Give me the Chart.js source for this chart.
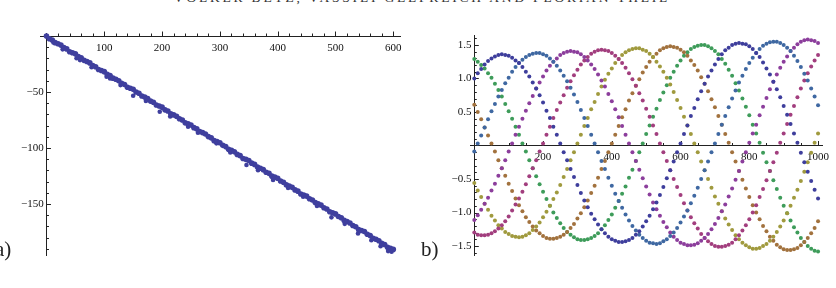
<!DOCTYPE html>
<html>
<head>
<meta charset="utf-8">
<script src="https://cdn.jsdelivr.net/npm/chart.js@4.4.1/dist/chart.umd.min.js"></script>
<style>
  body { margin: 0; width: 836px; height: 288px; overflow: hidden; background: #fff; position: relative; font-family: "Liberation Serif", serif; }
  canvas { position: absolute; top: 0; }
  #chartA { left: 0; }
  #chartB { left: 418px; }
  .tag { position: absolute; font-size: 21px; color: #222; line-height: 1; }
  #header { position: absolute; top: -10px; left: 0; width: 836px; text-align: center; font-size: 13.5px; letter-spacing: 2.8px; color: #333; white-space: nowrap; padding-left: 4px; }
</style>
</head>
<body>
<div id="header">VOLKER BETZ, VASSILI GELFREICH AND FLORIAN THEIL</div>
<canvas id="chartA" width="418" height="288"></canvas>
<canvas id="chartB" width="418" height="288"></canvas>
<div class="tag" style="left:-5px; top:239px;">a)</div>
<div class="tag" style="left:421px; top:239px;">b)</div>
<script>
// panel a): drift of the orbit, main band and the points that fall below it
const driftX = [0,5,10,15,20,25,30,35,40,45,50,55,60,65,70,75,80,85,90,95,
  100,105,110,115,120,125,130,135,140,145,150,155,160,165,170,175,180,185,190,195,
  200,205,210,215,220,225,230,235,240,245,250,255,260,265,270,275,280,285,290,295,
  300,305,310,315,320,325,330,335,340,345,350,355,360,365,370,375,380,385,390,395,
  400,405,410,415,420,425,430,435,440,445,450,455,460,465,470,475,480,485,490,495,
  500,505,510,515,520,525,530,535,540,545,550,555,560,565,570,575,580,585,590,595,600];
const driftY = [0.0,-2.4,-3.5,-5.9,-6.9,-8.1,-10.4,-11.5,-14.0,-14.9,
  -15.9,-18.3,-19.4,-21.7,-22.7,-24.0,-26.3,-27.4,-29.9,-30.8,
  -31.8,-34.1,-35.2,-37.6,-38.6,-39.9,-42.2,-43.3,-45.8,-46.6,
  -47.6,-50.0,-51.1,-53.5,-54.5,-55.8,-58.1,-59.1,-61.6,-62.5,
  -63.5,-65.9,-67.0,-69.4,-70.4,-71.6,-73.9,-75.0,-77.5,-78.4,
  -79.4,-81.8,-82.9,-85.2,-86.2,-87.5,-89.8,-90.9,-93.4,-94.3,
  -95.3,-97.6,-98.7,-101.1,-102.1,-103.4,-105.7,-106.8,-109.3,-110.1,
  -111.1,-113.5,-114.6,-117.0,-118.0,-119.3,-121.6,-122.6,-125.1,-126.0,
  -127.0,-129.4,-130.5,-132.9,-133.9,-135.1,-137.4,-138.5,-141.0,-141.9,
  -142.9,-145.3,-146.4,-148.7,-149.7,-151.0,-153.3,-154.4,-156.9,-157.8,
  -158.8,-161.1,-162.2,-164.6,-165.6,-166.9,-169.2,-170.3,-172.8,-173.6,
  -174.6,-177.0,-178.1,-180.5,-181.5,-182.8,-185.1,-186.1,-188.6,-189.5,-190.5];
const dropX = [12,28,52,58,78,104,110,128,150,172,196,214,245,262,294,318,346,366,392,418,444,468,493,516,539,562,578,591,597];
const dropY = [-5.8,-11.9,-19.9,-21.5,-27.9,-36.3,-37.9,-43.8,-53.3,-57.9,-67.6,-71.9,-81.0,-86.4,-95.8,-103.9,-115.2,-119.8,-128.6,-135.7,-143.5,-151.8,-161.9,-167.7,-176.2,-182.3,-187.6,-192.0,-192.5];
const aTicksX = [100, 200, 300, 400, 500, 600];
const aTicksY = [-150, -100, -50];

// panel b): seven oscillating components
const timeX = [0,10,20,30,40,50,60,70,80,90,100,110,120,130,140,150,160,170,180,190,
  200,210,220,230,240,250,260,270,280,290,300,310,320,330,340,350,360,370,380,390,
  400,410,420,430,440,450,460,470,480,490,500,510,520,530,540,550,560,570,580,590,
  600,610,620,630,640,650,660,670,680,690,700,710,720,730,740,750,760,770,780,790,
  800,810,820,830,840,850,860,870,880,890,900,910,920,930,940,950,960,970,980,990,1000];
const comp1 = [1.00,1.08,1.14,1.21,1.26,1.30,1.33,1.35,1.36,1.35,
  1.34,1.31,1.27,1.23,1.17,1.10,1.03,0.94,0.85,0.75,
  0.64,0.52,0.41,0.28,0.16,0.03,-0.10,-0.22,-0.35,-0.47,
  -0.59,-0.71,-0.82,-0.92,-1.02,-1.10,-1.18,-1.25,-1.31,-1.36,
  -1.40,-1.42,-1.44,-1.44,-1.43,-1.41,-1.38,-1.33,-1.28,-1.21,
  -1.13,-1.05,-0.95,-0.85,-0.74,-0.62,-0.49,-0.37,-0.24,-0.10,
  0.03,0.17,0.30,0.44,0.56,0.69,0.81,0.92,1.03,1.12,
  1.21,1.29,1.36,1.42,1.46,1.50,1.52,1.53,1.52,1.51,
  1.48,1.44,1.38,1.32,1.24,1.15,1.06,0.95,0.84,0.72,
  0.59,0.46,0.32,0.18,0.04,-0.11,-0.25,-0.39,-0.53,-0.66,-0.79];
const comp2 = [-0.09,0.03,0.15,0.27,0.39,0.51,0.62,0.73,0.83,0.93,
  1.01,1.10,1.17,1.23,1.28,1.32,1.35,1.37,1.38,1.38,
  1.36,1.34,1.30,1.25,1.19,1.12,1.04,0.96,0.86,0.76,
  0.65,0.53,0.41,0.29,0.16,0.03,-0.10,-0.23,-0.35,-0.48,
  -0.60,-0.72,-0.83,-0.93,-1.03,-1.12,-1.20,-1.27,-1.33,-1.38,
  -1.42,-1.45,-1.46,-1.47,-1.46,-1.43,-1.40,-1.35,-1.30,-1.23,
  -1.15,-1.06,-0.97,-0.86,-0.75,-0.63,-0.50,-0.37,-0.24,-0.10,
  0.03,0.17,0.31,0.44,0.57,0.70,0.82,0.94,1.04,1.14,
  1.23,1.31,1.38,1.44,1.49,1.52,1.54,1.55,1.55,1.53,
  1.50,1.46,1.41,1.34,1.26,1.17,1.07,0.97,0.85,0.73,0.60];
const comp3 = [-1.11,-1.04,-0.96,-0.87,-0.78,-0.67,-0.57,-0.45,-0.34,-0.22,
  -0.09,0.03,0.16,0.28,0.40,0.52,0.63,0.74,0.85,0.94,
  1.03,1.12,1.19,1.25,1.30,1.35,1.38,1.40,1.41,1.40,
  1.39,1.36,1.32,1.27,1.21,1.14,1.06,0.97,0.88,0.77,
  0.66,0.54,0.42,0.29,0.16,0.03,-0.10,-0.23,-0.36,-0.49,
  -0.61,-0.73,-0.85,-0.95,-1.05,-1.14,-1.22,-1.30,-1.36,-1.41,
  -1.45,-1.47,-1.49,-1.49,-1.48,-1.46,-1.42,-1.38,-1.32,-1.25,
  -1.17,-1.08,-0.98,-0.88,-0.76,-0.64,-0.51,-0.38,-0.24,-0.10,
  0.04,0.18,0.31,0.45,0.58,0.71,0.84,0.95,1.06,1.16,
  1.25,1.33,1.41,1.46,1.51,1.55,1.57,1.58,1.57,1.56,1.53];
const comp4 = [-1.30,-1.33,-1.34,-1.34,-1.33,-1.31,-1.28,-1.24,-1.19,-1.13,
  -1.06,-0.97,-0.88,-0.79,-0.69,-0.58,-0.46,-0.34,-0.22,-0.09,
  0.03,0.16,0.28,0.41,0.53,0.64,0.75,0.86,0.96,1.05,
  1.13,1.21,1.27,1.32,1.37,1.40,1.42,1.43,1.42,1.41,
  1.38,1.34,1.29,1.23,1.16,1.08,0.99,0.89,0.78,0.67,
  0.55,0.43,0.30,0.17,0.03,-0.10,-0.23,-0.37,-0.50,-0.62,
  -0.74,-0.86,-0.97,-1.07,-1.16,-1.24,-1.32,-1.38,-1.43,-1.47,
  -1.50,-1.51,-1.51,-1.50,-1.48,-1.45,-1.40,-1.34,-1.27,-1.19,
  -1.10,-1.00,-0.89,-0.77,-0.65,-0.52,-0.38,-0.25,-0.11,0.04,
  0.18,0.32,0.46,0.59,0.72,0.85,0.97,1.08,1.18,1.27,1.35];
const comp5 = [-0.56,-0.67,-0.77,-0.87,-0.96,-1.05,-1.12,-1.19,-1.24,-1.29,
  -1.32,-1.35,-1.36,-1.37,-1.36,-1.34,-1.31,-1.26,-1.21,-1.15,
  -1.07,-0.99,-0.90,-0.80,-0.70,-0.59,-0.47,-0.35,-0.22,-0.10,
  0.03,0.16,0.29,0.41,0.54,0.65,0.77,0.88,0.98,1.07,
  1.15,1.23,1.29,1.35,1.39,1.42,1.44,1.45,1.45,1.43,
  1.41,1.37,1.32,1.25,1.18,1.10,1.01,0.91,0.80,0.68,
  0.56,0.43,0.30,0.17,0.03,-0.10,-0.24,-0.37,-0.50,-0.63,
  -0.76,-0.87,-0.98,-1.09,-1.18,-1.26,-1.34,-1.40,-1.45,-1.49,
  -1.52,-1.54,-1.54,-1.53,-1.50,-1.47,-1.42,-1.36,-1.29,-1.21,
  -1.12,-1.01,-0.90,-0.78,-0.66,-0.53,-0.39,-0.25,-0.11,0.04,0.18];
const comp6 = [0.61,0.50,0.39,0.27,0.15,0.03,-0.09,-0.22,-0.34,-0.45,
  -0.57,-0.68,-0.79,-0.89,-0.98,-1.07,-1.14,-1.21,-1.27,-1.31,
  -1.35,-1.38,-1.39,-1.39,-1.38,-1.36,-1.33,-1.29,-1.23,-1.17,
  -1.09,-1.01,-0.92,-0.82,-0.71,-0.60,-0.48,-0.35,-0.23,-0.10,
  0.03,0.16,0.29,0.42,0.54,0.67,0.78,0.89,0.99,1.09,
  1.17,1.25,1.32,1.37,1.42,1.45,1.47,1.48,1.47,1.46,
  1.43,1.39,1.34,1.27,1.20,1.12,1.02,0.92,0.81,0.69,
  0.57,0.44,0.31,0.17,0.04,-0.10,-0.24,-0.38,-0.51,-0.64,
  -0.77,-0.89,-1.00,-1.10,-1.20,-1.28,-1.36,-1.42,-1.48,-1.52,
  -1.55,-1.56,-1.56,-1.55,-1.53,-1.49,-1.44,-1.38,-1.31,-1.23,-1.13];
const comp7 = [1.29,1.25,1.20,1.15,1.08,1.01,0.92,0.83,0.73,0.62,
  0.51,0.40,0.28,0.16,0.03,-0.09,-0.22,-0.34,-0.46,-0.58,
  -0.69,-0.80,-0.90,-1.00,-1.08,-1.16,-1.23,-1.29,-1.33,-1.37,
  -1.40,-1.41,-1.41,-1.40,-1.38,-1.35,-1.31,-1.25,-1.19,-1.11,
  -1.03,-0.93,-0.83,-0.72,-0.61,-0.48,-0.36,-0.23,-0.10,0.03,
  0.17,0.30,0.43,0.55,0.68,0.79,0.90,1.01,1.10,1.19,
  1.27,1.34,1.39,1.44,1.47,1.49,1.50,1.50,1.48,1.45,
  1.41,1.36,1.29,1.22,1.13,1.04,0.93,0.82,0.70,0.58,
  0.45,0.31,0.18,0.04,-0.11,-0.25,-0.38,-0.52,-0.65,-0.78,
  -0.90,-1.01,-1.12,-1.22,-1.30,-1.38,-1.44,-1.50,-1.54,-1.57,-1.58];
const bTicksX = [200, 400, 600, 800, 1000];
const bTicksY = [-1.5, -1, -0.5, 0.5, 1, 1.5];

const compColors = ['#3e3e9c', '#3f68a2', '#8c3e9c', '#a23e7e', '#a09a3e', '#a2723e', '#3e9c5a'];

function pts(xs, ys) {
  return xs.map((x, i) => ({ x: x, y: ys[i] }));
}

function minus(v, digits) {
  const s = digits ? Math.abs(v).toFixed(digits) : String(Math.abs(v));
  return v < 0 ? '\u2212' + s : s;
}

// Mathematica style axes: small ticks on the inner side of the crossing axes
const axisTicks = {
  id: 'axisTicks',
  beforeDatasetsDraw(chart, args, o) {
    const { ctx, scales: { x, y } } = chart;
    const ox = x.getPixelForValue(0);
    const oy = y.getPixelForValue(0);
    ctx.save();
    ctx.strokeStyle = '#222';
    ctx.lineWidth = 1;
    ctx.beginPath();
    for (let k = Math.ceil(x.min / o.xStep); k * o.xStep <= x.max; k++) {
      if (k === 0) continue;
      const len = k % o.xEvery === 0 ? 4.5 : 2.5;
      const px = Math.round(x.getPixelForValue(k * o.xStep)) + 0.5;
      ctx.moveTo(px, oy);
      ctx.lineTo(px, oy - len);
    }
    for (let k = Math.ceil(y.min / o.yStep); k * o.yStep <= y.max; k++) {
      if (k === 0) continue;
      const len = k % o.yEvery === 0 ? 4.5 : 2.5;
      const py = Math.round(y.getPixelForValue(k * o.yStep)) + 0.5;
      ctx.moveTo(ox, py);
      ctx.lineTo(ox + len, py);
    }
    ctx.stroke();
    ctx.restore();
  }
};

function makeChart(id, datasets, sx, sy, pad, tk) {
  const font = { family: 'Liberation Serif', size: 11 };
  return new Chart(document.getElementById(id), {
    type: 'scatter',
    data: { datasets: datasets },
    options: {
      responsive: false,
      animation: false,
      devicePixelRatio: 1,
      layout: { padding: pad },
      plugins: { legend: { display: false }, tooltip: { enabled: false }, axisTicks: tk },
      scales: {
        x: {
          type: 'linear', position: { y: 0 }, min: sx.min, max: sx.max,
          afterBuildTicks: s => { s.ticks = sx.ticks.map(v => ({ value: v })); },
          grid: { display: false, drawTicks: false },
          border: { display: true, color: '#222', width: 1 },
          ticks: { autoSkip: false, maxRotation: 0, padding: 5, color: '#111', font: font, callback: v => minus(v, sx.digits) }
        },
        y: {
          type: 'linear', position: { x: 0 }, min: sy.min, max: sy.max,
          afterBuildTicks: s => { s.ticks = sy.ticks.map(v => ({ value: v })); },
          grid: { display: false, drawTicks: false },
          border: { display: true, color: '#222', width: 1 },
          ticks: { autoSkip: false, padding: 4, color: '#111', font: font, callback: v => minus(v, sy.digits) + ' ' }
        }
      }
    },
    plugins: [axisTicks]
  });
}

makeChart('chartA', [
  { data: pts(driftX, driftY), backgroundColor: '#3f3f9e', pointRadius: 2.8, pointBorderWidth: 0, pointHoverRadius: 0 },
  { data: pts(dropX, dropY), backgroundColor: '#3f3f9e', pointRadius: 2.3, pointBorderWidth: 0, pointHoverRadius: 0 }
], { min: -11.2, max: 611.6, ticks: aTicksX, digits: 0 },
   { min: -195.5, max: 2.7, ticks: aTicksY, digits: 0 },
   { left: 40, right: 18, top: 33, bottom: 33 },
   { xStep: 20, xEvery: 5, yStep: 10, yEvery: 5 });

const comps = [comp1, comp2, comp3, comp4, comp5, comp6, comp7];
makeChart('chartB', comps.map((c, i) => ({
  data: pts(timeX, c), backgroundColor: compColors[i], pointRadius: 2.0, pointBorderWidth: 0, pointHoverRadius: 0
})), { min: -12.5, max: 1011.5, ticks: bTicksX, digits: 0 },
   { min: -1.634, max: 1.649, ticks: bTicksY, digits: 1 },
   { left: 52, right: 14, top: 35, bottom: 33 },
   { xStep: 50, xEvery: 4, yStep: 0.1, yEvery: 5 });
</script>
</body>
</html>
